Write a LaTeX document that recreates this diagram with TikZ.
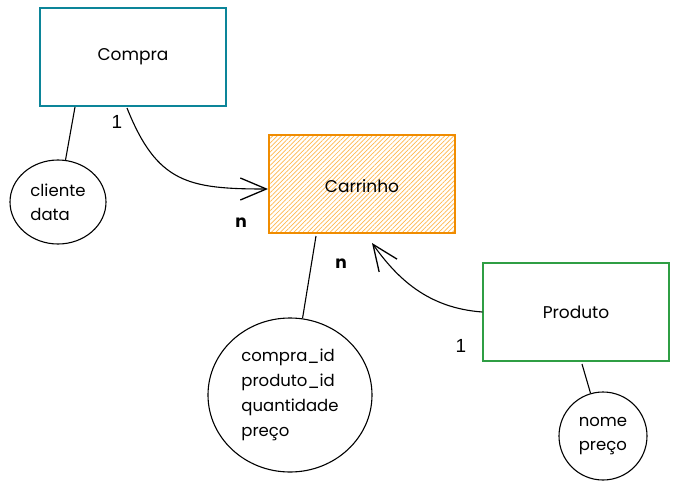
\documentclass[tikz,border=0pt]{standalone}
\usepackage{fontspec}
\setmainfont{Poppins}
\newfontfamily\labelfont{Liberation Sans}
\usetikzlibrary{shapes.geometric,arrows.meta,patterns.meta,calc}
\definecolor{tealc}{HTML}{0C8599}
\definecolor{greenc}{HTML}{2F9E44}
\definecolor{orangec}{HTML}{F08C00}
\definecolor{hatchc}{HTML}{FFB84D}
\begin{document}
\begin{tikzpicture}[x=1pt,y=-1pt,
  box/.style={rectangle, minimum width=186pt, minimum height=98pt, inner sep=0pt, line width=1.3pt, font=\fontsize{17}{20}\selectfont},
  ell/.style={ellipse, draw=black, line width=1.1pt, inner sep=0pt, align=left, font=\fontsize{16.5}{24}\selectfont},
  link/.style={draw=black, line width=1.1pt},
  arr/.style={draw=black, line width=1.1pt, -{Straight Barb[length=26pt,width=22pt,line width=1.3pt]}},
  card/.style={font=\labelfont\fontsize{19}{20}\selectfont},
  cardn/.style={font=\bfseries\fontsize{17}{18}\selectfont}
]
\useasboundingbox (0,0) rectangle (678,490);
\fill[white] (0,0) rectangle (678,490);

\node[box, draw=tealc] (compra) at (133,57) {Compra};
\node[box, draw=orangec, pattern={Lines[angle=45,distance=3.2pt,line width=0.7pt]}, pattern color=hatchc] (carrinho) at (362,184) {};
\node[font=\fontsize{17}{20}\selectfont] (carrinholbl) at (362,186) {Carrinho};
\node[box, draw=greenc] (produto) at (576,312) {Produto};

\node[ell, minimum width=96pt, minimum height=84pt] (cd) at (58,202) {cliente\\data};
\node[ell, minimum width=164pt, minimum height=154pt, font=\fontsize{16.5}{25}\selectfont] (cp) at (290,395) {compra\_id\\produto\_id\\quantidade\\preço};
\node[ell, minimum width=88pt, minimum height=88pt] (np) at (603,436) {nome\\preço};

\coordinate (c1) at (75,107);
\coordinate (c2) at (127,108);
\coordinate (c3) at (316,236);
\coordinate (c4) at (372,243);
\coordinate (c5) at (582,364);
\coordinate (c6) at (268,189);

\draw[link] (c1) -- (cd);
\draw[link] (c3) -- (cp);
\draw[link] (c5) -- (np);

\draw[arr] (c2) .. controls +(30,75) and +(-80,0) .. (c6);
\draw[arr] (produto.west) .. controls +(-55,-4) and +(25,35) .. (c4);

\node[card] (one1) at (117,122) {1};
\node[cardn] (n1) at (241,223) {n};
\node[cardn] (n2) at (341,264) {n};
\node[card] (one2) at (461,346) {1};
\end{tikzpicture}
\end{document}
